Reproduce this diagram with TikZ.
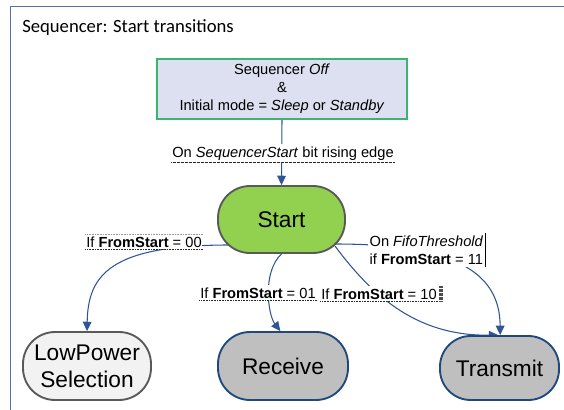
\documentclass[tikz,border=0pt]{standalone}
\usepackage{fontspec}
\setmainfont{Liberation Sans}
\newfontfamily\titlefont{Carlito}
\usetikzlibrary{arrows.meta,calc,backgrounds}
\definecolor{frameblue}{RGB}{84,114,164}
\definecolor{connblue}{RGB}{47,85,151}
\definecolor{topfill}{RGB}{221,224,240}
\definecolor{topborder}{RGB}{60,179,113}
\definecolor{startfill}{RGB}{146,208,80}
\definecolor{darkgrey}{RGB}{89,89,89}
\definecolor{nodeblue}{RGB}{31,73,125}
\definecolor{greyfill}{RGB}{191,191,191}
\definecolor{lightfill}{RGB}{242,242,242}
\begin{document}
\begin{tikzpicture}[x=0.75pt,y=-0.75pt,
  conn/.style={draw=connblue, line width=0.8pt},
  arrowed/.style={-{Triangle[length=7pt,width=6.5pt]}},
  lbl/.style={fill=white, inner xsep=0.5pt, inner ysep=1.6pt, font=\fontsize{11}{13.5}\selectfont},
  uline/.style={line width=0.5pt, dash pattern=on 0.6pt off 0.6pt, black!85},
  stadium/.style={line width=1.4pt, inner sep=0pt, align=center, font=\fontsize{17}{20}\selectfont},
]
\useasboundingbox (0,0) rectangle (564,410);
% frame
\draw[frameblue, line width=1.1pt] (10.5,410) -- (10.5,6.5) -- (564,6.5);
\node[anchor=base west, inner sep=0pt, font=\titlefont\fontsize{14}{16}\selectfont] (title) at (22,33) {Sequencer: Start transitions};

% nodes
\node[draw=topborder, fill=topfill, line width=0.9pt, minimum width=187.5pt, minimum height=45pt, inner sep=0pt, align=center, font=\fontsize{11}{13.5}\selectfont] (top) at (282,89)
  {Sequencer \textit{Off}\\\&\\Initial mode = \textit{Sleep} or \textit{Standby}};
\node[stadium, draw=darkgrey, fill=startfill, minimum width=95.25pt, minimum height=50.25pt, rounded corners=24pt] (start) at (281.5,219.5) {Start};
\node[stadium, draw=darkgrey, fill=lightfill, minimum width=96pt, minimum height=51pt, rounded corners=24pt] (lp) at (87,366) {LowPower\\Selection};
\node[stadium, draw=nodeblue, fill=greyfill, minimum width=97.5pt, minimum height=51pt, rounded corners=24pt] (rx) at (283,366) {Receive};
\node[stadium, draw=nodeblue, fill=greyfill, minimum width=89.25pt, minimum height=48pt, rounded corners=23pt] (tx) at (499.5,368) {Transmit};

% labels
\node[lbl, anchor=base] (lseq) at (283,157) {On \textit{SequencerStart} bit rising edge};
\node[lbl, anchor=base] (l00) at (144,247) {If \textbf{FromStart} = 00};
\node[lbl, anchor=base] (l01) at (258,298) {If \textbf{FromStart} = 01};
\node[lbl, anchor=base] (l10) at (379,299) {If \textbf{FromStart} = 10};
\node[lbl, anchor=west, align=left, inner xsep=1pt] (l11) at (368,250) {On \textit{FifoThreshold}\\if \textbf{FromStart} = 11};

% label decorations
\draw[uline, line width=1.1pt, dash pattern=on 0.5pt off 0.5pt] (lseq.south west) -- (lseq.south east);
\draw[uline] (l00.south west) -- (l00.south east);
\draw[uline, black!40] (l00.north west) -- (l00.north east);
\draw[uline] (l01.south west) -- (l01.south east);
\draw[uline] (l10.south west) -- (l10.south east);
\draw[line width=3.5pt, dash pattern=on 0.5pt off 0.5pt, black!70] ([xshift=2.5pt]l10.north east) -- ([xshift=2.5pt]l10.south east);
\draw[line width=0.6pt] (l11.north east) -- (l11.south east);

% connectors
\begin{pgfonlayer}{background}
\draw[conn, arrowed] (top.south) -- (start.north);
\draw[conn, arrowed] ($(start.center)+(-52,25.5)$) .. controls (110,245) and (88,275) .. (lp.north);
\draw[conn, arrowed] (start.south) .. controls (262,272) and (268,315) .. ([xshift=-2pt]rx.north);
\draw[conn, arrowed] ($(start.center)+(53.5,26.5)$) .. controls (375,300) and (420,336) .. ([xshift=-1pt]tx.north);
\draw[conn, arrowed] ($(start.center)+(53.5,24.5)$) .. controls (450,244) and (500,270) .. ([xshift=0.5pt]tx.north);
\end{pgfonlayer}
\end{tikzpicture}
\end{document}
